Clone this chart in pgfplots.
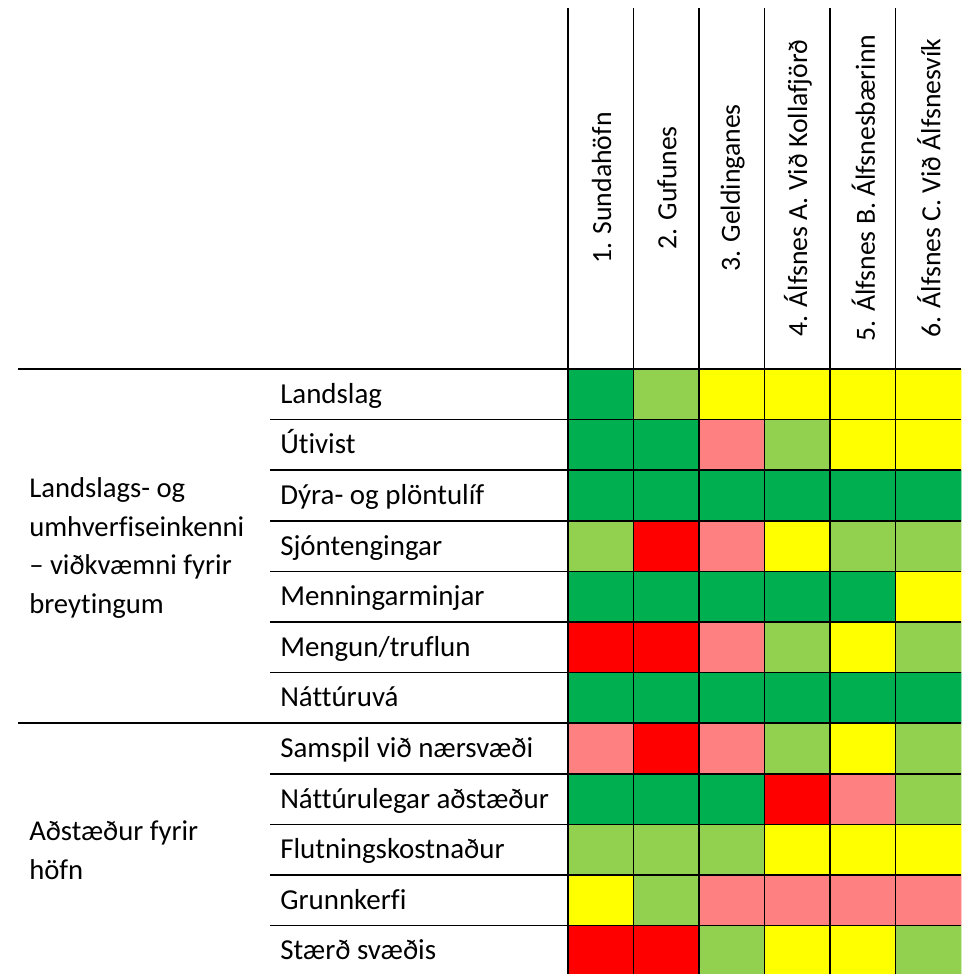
\documentclass[border=0pt]{standalone}
\usepackage{fontspec}
\setmainfont{Carlito}[Ligatures=NoCommon]
\usepackage{pgfplots}
\pgfplotsset{compat=1.18}
\usepackage{pgfplotstable}
% cell codes: 0 dark green, 1 light green, 2 yellow, 3 pink, 4 red
% x = column centre (px), y = row centre (px)
\pgfplotstableread{
x y c
600.75 394.3 0
666.25 394.3 1
731.75 394.3 2
797.25 394.3 2
862.75 394.3 2
928.25 394.3 2
600.75 444.9 0
666.25 444.9 0
731.75 444.9 3
797.25 444.9 1
862.75 444.9 2
928.25 444.9 2
600.75 495.5 0
666.25 495.5 0
731.75 495.5 0
797.25 495.5 0
862.75 495.5 0
928.25 495.5 0
600.75 546.1 1
666.25 546.1 4
731.75 546.1 3
797.25 546.1 2
862.75 546.1 1
928.25 546.1 1
600.75 596.7 0
666.25 596.7 0
731.75 596.7 0
797.25 596.7 0
862.75 596.7 0
928.25 596.7 2
600.75 647.3 4
666.25 647.3 4
731.75 647.3 3
797.25 647.3 1
862.75 647.3 2
928.25 647.3 1
600.75 697.9 0
666.25 697.9 0
731.75 697.9 0
797.25 697.9 0
862.75 697.9 0
928.25 697.9 0
600.75 748.5 3
666.25 748.5 4
731.75 748.5 3
797.25 748.5 1
862.75 748.5 2
928.25 748.5 1
600.75 799.1 0
666.25 799.1 0
731.75 799.1 0
797.25 799.1 4
862.75 799.1 3
928.25 799.1 1
600.75 849.7 1
666.25 849.7 1
731.75 849.7 1
797.25 849.7 2
862.75 849.7 2
928.25 849.7 2
600.75 900.3 2
666.25 900.3 1
731.75 900.3 3
797.25 900.3 3
862.75 900.3 3
928.25 900.3 3
600.75 950.9 4
666.25 950.9 4
731.75 950.9 1
797.25 950.9 2
862.75 950.9 2
928.25 950.9 1
}\cells
\begin{document}
\begin{tikzpicture}[lab/.style={inner sep=0pt, font=\fontsize{21.7}{27}\selectfont},
  hdr/.style={inner sep=0pt, rotate=90, font=\fontsize{20.8}{25}\selectfont}]
\begin{axis}[
  scale only axis, width=722.25pt, height=730.5pt,
  xmin=0, xmax=963, ymin=0, ymax=974, y dir=reverse,
  hide axis, clip=false,
  colormap={cells}{rgb255=(0,176,80) rgb255=(146,208,80) rgb255=(255,255,0) rgb255=(255,128,128) rgb255=(255,0,0)},
  colormap access=direct,
]
\addplot[matrix plot*, mesh/cols=6, point meta=explicit] table[x=x, y=y, meta=c] {\cells};
% vertical grid lines
\draw[line width=1.2pt] (axis cs:568,8) -- (axis cs:568,974);
\draw[line width=1.2pt] (axis cs:633.5,8) -- (axis cs:633.5,974);
\draw[line width=1.2pt] (axis cs:699,8) -- (axis cs:699,974);
\draw[line width=1.2pt] (axis cs:764.5,8) -- (axis cs:764.5,974);
\draw[line width=1.2pt] (axis cs:830,8) -- (axis cs:830,974);
\draw[line width=1.2pt] (axis cs:895.5,8) -- (axis cs:895.5,974);
% horizontal lines
\draw[line width=1.2pt] (axis cs:18,369) -- (axis cs:961,369);
\draw[line width=1.2pt] (axis cs:18,723) -- (axis cs:961,723);
\draw[line width=1.2pt] (axis cs:270,419.6) -- (axis cs:961,419.6);
\draw[line width=1.2pt] (axis cs:270,470.2) -- (axis cs:961,470.2);
\draw[line width=1.2pt] (axis cs:270,520.8) -- (axis cs:961,520.8);
\draw[line width=1.2pt] (axis cs:270,571.4) -- (axis cs:961,571.4);
\draw[line width=1.2pt] (axis cs:270,622) -- (axis cs:961,622);
\draw[line width=1.2pt] (axis cs:270,672.6) -- (axis cs:961,672.6);
\draw[line width=1.2pt] (axis cs:270,773.8) -- (axis cs:961,773.8);
\draw[line width=1.2pt] (axis cs:270,824.4) -- (axis cs:961,824.4);
\draw[line width=1.2pt] (axis cs:270,875) -- (axis cs:961,875);
\draw[line width=1.2pt] (axis cs:270,925.6) -- (axis cs:961,925.6);
% headers
\node[hdr] at (axis cs:601.5,188) {1. Sundahöfn};
\node[hdr] at (axis cs:667,188) {2. Gufunes};
\node[hdr] at (axis cs:732.5,188) {3. Geldinganes};
\node[hdr] at (axis cs:798,188) {4. Álfsnes A. Við Kollafjörð};
\node[hdr] at (axis cs:863.5,188) {5. Álfsnes B. Álfsnesbærinn};
\node[hdr] at (axis cs:929,188) {6. Álfsnes C. Við Álfsnesvík};
% row labels
\node[lab, anchor=base west] at (axis cs:280,403.3) {Landslag};
\node[lab, anchor=base west] at (axis cs:280,453.9) {Útivist};
\node[lab, anchor=base west] at (axis cs:280,504.5) {Dýra- og plöntulíf};
\node[lab, anchor=base west] at (axis cs:280,555.1) {Sjóntengingar};
\node[lab, anchor=base west] at (axis cs:280,605.7) {Menningarminjar};
\node[lab, anchor=base west] at (axis cs:280,656.3) {Mengun/truflun};
\node[lab, anchor=base west] at (axis cs:280,706.9) {Náttúruvá};
\node[lab, anchor=base west] at (axis cs:280,757.5) {Samspil við nærsvæði};
\node[lab, anchor=base west] at (axis cs:280,808.1) {Náttúrulegar aðstæður};
\node[lab, anchor=base west] at (axis cs:280,858.7) {Flutningskostnaður};
\node[lab, anchor=base west] at (axis cs:280,909.3) {Grunnkerfi};
\node[lab, anchor=base west] at (axis cs:280,959.9) {Stærð svæðis};
% group labels
\node[anchor=west, inner sep=0pt, align=left, font=\fontsize{21.5}{29}\selectfont] at (axis cs:29,548) {Landslags- og\\umhverfiseinkenni\\– viðkvæmni fyrir\\breytingum};
\node[anchor=west, inner sep=0pt, align=left, font=\fontsize{21.5}{29}\selectfont] at (axis cs:29,850) {Aðstæður fyrir\\höfn};
\end{axis}
\pgfresetboundingbox
\useasboundingbox (current axis.south west) rectangle (current axis.north east);
\end{tikzpicture}
\end{document}
